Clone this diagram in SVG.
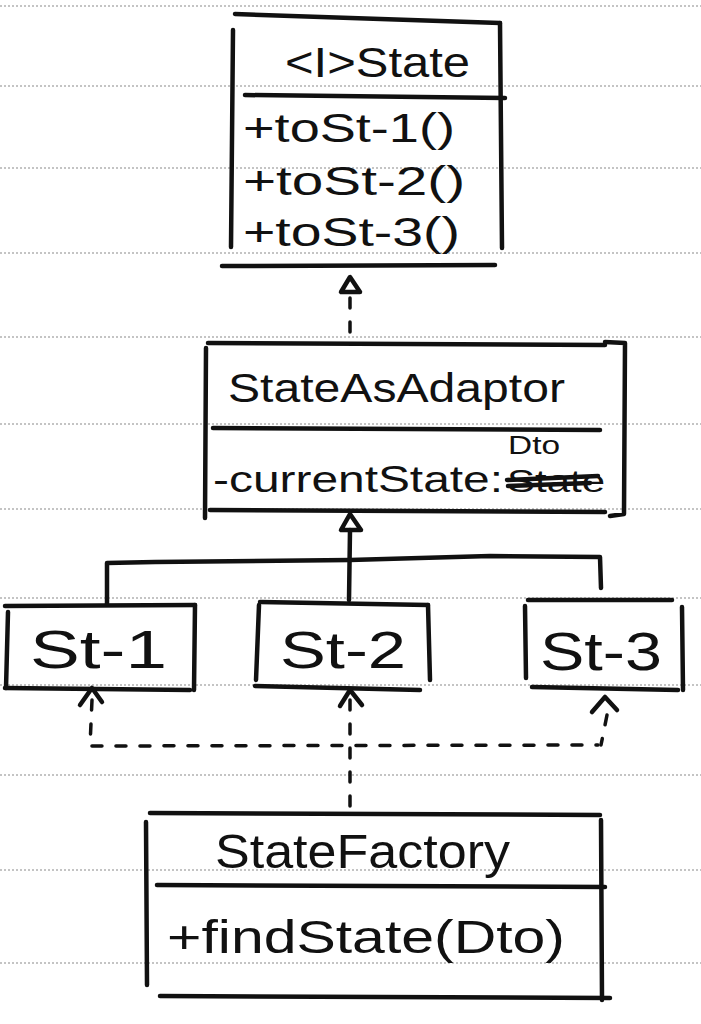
<svg xmlns="http://www.w3.org/2000/svg" width="701" height="1024" viewBox="0 0 701 1024">
<style>
.bg{stroke:#8a8a8a;stroke-width:1.2;stroke-dasharray:2 2;fill:none}
.ln{stroke:#111;stroke-width:4.5;fill:none;stroke-linecap:round;stroke-linejoin:round}
.dash{stroke:#111;stroke-width:3.5;fill:none;stroke-dasharray:10 14;stroke-linecap:round}
.t{font-family:"Liberation Sans","DejaVu Sans",sans-serif;fill:#111}
</style>
<rect width="701" height="1024" fill="#fff"/>
<g id="paper">
<line class="bg" x1="0" y1="6" x2="701" y2="6"/>
<line class="bg" x1="0" y1="86" x2="701" y2="86"/>
<line class="bg" x1="0" y1="168" x2="701" y2="168"/>
<line class="bg" x1="0" y1="253" x2="701" y2="253"/>
<line class="bg" x1="0" y1="337" x2="701" y2="337"/>
<line class="bg" x1="0" y1="424" x2="701" y2="424"/>
<line class="bg" x1="0" y1="509" x2="701" y2="509"/>
<line class="bg" x1="0" y1="598" x2="701" y2="598"/>
<line class="bg" x1="0" y1="685" x2="701" y2="685"/>
<line class="bg" x1="0" y1="775" x2="701" y2="775"/>
<line class="bg" x1="0" y1="870" x2="701" y2="870"/>
<line class="bg" x1="0" y1="963" x2="701" y2="963"/>
</g>
<g id="state">
<path class="ln" d="M235 14 L500 23"/>
<path class="ln" d="M233 30 L231 247"/>
<path class="ln" d="M500 23 L502 248"/>
<path class="ln" d="M245 95 L505 98"/>
<path class="ln" d="M222 266 L495 265"/>
<text class="t" x="285" y="77" font-size="42" textLength="185" lengthAdjust="spacingAndGlyphs">&lt;I&gt;State</text>
<text class="t" x="243" y="142" font-size="40" textLength="212" lengthAdjust="spacingAndGlyphs">+toSt-1()</text>
<text class="t" x="243" y="195" font-size="40" textLength="222" lengthAdjust="spacingAndGlyphs">+toSt-2()</text>
<text class="t" x="243" y="246" font-size="40" textLength="217" lengthAdjust="spacingAndGlyphs">+toSt-3()</text>
</g>
<g id="adaptor">
<path class="ln" d="M208 343 L605 345"/>
<path class="ln" d="M206 348 L205 518"/>
<path class="ln" d="M605 342 L625 343 L624 514 L610 516"/>
<path class="ln" d="M213 428 L600 430"/>
<path class="ln" d="M210 510 L605 512"/>
<text class="t" x="228" y="402" font-size="40" textLength="337" lengthAdjust="spacingAndGlyphs">StateAsAdaptor</text>
<text class="t" x="213" y="492" font-size="36" textLength="290" lengthAdjust="spacingAndGlyphs">-currentState:</text>
<text class="t" x="507" y="492" font-size="31" textLength="98" lengthAdjust="spacingAndGlyphs">State</text>
<path class="ln" d="M507 480 L598 476 M508 486 L590 483" stroke-width="5"/>
<text class="t" x="508" y="454" font-size="25" textLength="52" lengthAdjust="spacingAndGlyphs">Dto</text>
</g>
<g id="st1">
<path class="ln" d="M5 606 L195 605"/>
<path class="ln" d="M8 612 L6 688"/>
<path class="ln" d="M195 605 L194 690"/>
<path class="ln" d="M5 688 L190 690"/>
<text class="t" x="30" y="668" font-size="54" textLength="137" lengthAdjust="spacingAndGlyphs">St-1</text>
</g>
<g id="st2">
<path class="ln" d="M260 602 L428 605"/>
<path class="ln" d="M259 605 L256 680"/>
<path class="ln" d="M428 605 L430 680"/>
<path class="ln" d="M255 686 L420 690"/>
<text class="t" x="280" y="668" font-size="52" textLength="126" lengthAdjust="spacingAndGlyphs">St-2</text>
</g>
<g id="st3">
<path class="ln" d="M528 600 L672 600"/>
<path class="ln" d="M525 606 L526 678"/>
<path class="ln" d="M682 607 L683 690"/>
<path class="ln" d="M532 687 L678 690"/>
<text class="t" x="540" y="670" font-size="54" textLength="122" lengthAdjust="spacingAndGlyphs">St-3</text>
</g>
<g id="factory">
<path class="ln" d="M150 813 L600 815"/>
<path class="ln" d="M146 822 L147 985"/>
<path class="ln" d="M601 820 L602 1000"/>
<path class="ln" d="M157 885 L605 887"/>
<path class="ln" d="M160 996 L610 998"/>
<text class="t" x="215" y="868" font-size="48" textLength="295" lengthAdjust="spacingAndGlyphs">StateFactory</text>
<text class="t" x="167" y="953" font-size="46" textLength="398" lengthAdjust="spacingAndGlyphs">+findState(Dto)</text>
</g>
<g id="connectors">
<path class="ln" d="M350 277 L341 292 L360 292 Z" stroke-width="3.5"/>
<path class="dash" d="M350 298 L350 336" stroke-dasharray="5 14"/>
<path class="ln" d="M350 514 L341 530 L361 530 Z" stroke-width="3.5"/>
<path class="ln" d="M350 530 L349 600"/>
<path class="ln" d="M107 604 L107 563 L155 562 L350 560 L490 556 L600 557 L601 588"/>
<path class="ln" d="M80 705 L92 688 L102 702" stroke-width="3.5"/>
<path class="ln" d="M340 706 L350 690 L362 705" stroke-width="3.5"/>
<path class="ln" d="M592 712 L605 697 L617 710" stroke-width="3.5"/>
<path class="dash" d="M92 700 L90 746 L598 745"/>
<path class="dash" d="M607 715 L601 745"/>
<path class="dash" d="M350 700 L350 812"/>
</g>
</svg>
